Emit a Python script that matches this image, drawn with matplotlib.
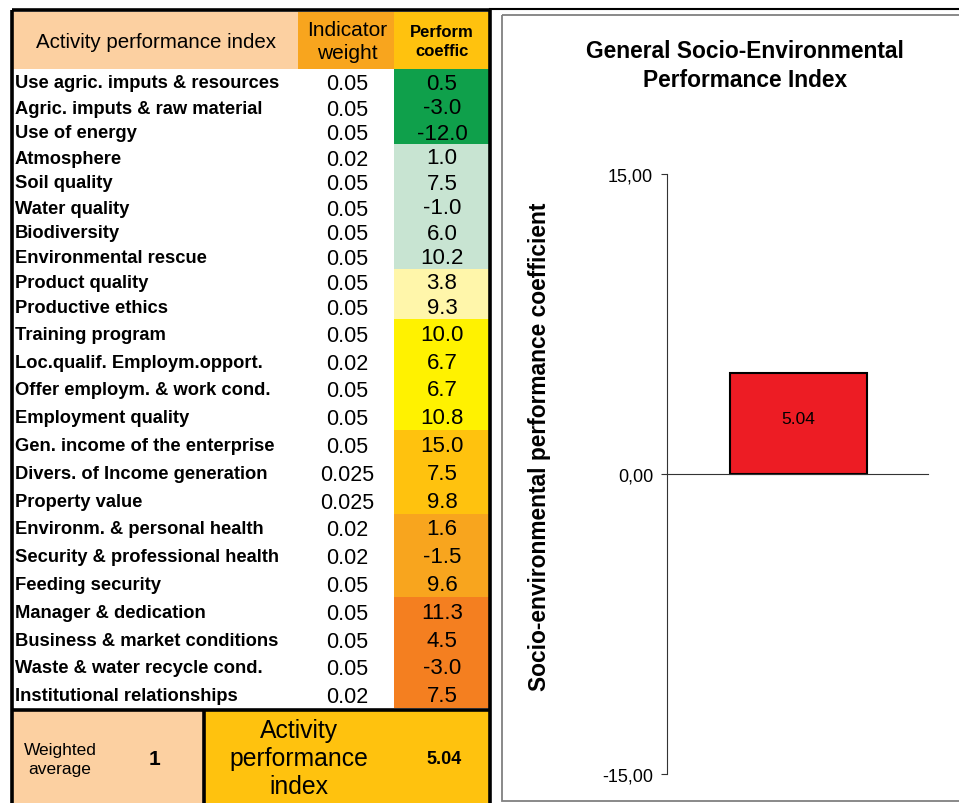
import matplotlib.pyplot as plt
from matplotlib.patches import Rectangle
from matplotlib.ticker import FuncFormatter

plt.rcParams['font.family'] = ['Liberation Sans', 'DejaVu Sans']

indicators = [
    "Use agric. imputs & resources", "Agric. imputs & raw material", "Use of energy",
    "Atmosphere", "Soil quality", "Water quality", "Biodiversity", "Environmental rescue",
    "Product quality", "Productive ethics",
    "Training program", "Loc.qualif. Employm.opport.", "Offer employm. & work cond.",
    "Employment quality",
    "Gen. income of the enterprise", "Divers. of Income generation", "Property value",
    "Environm. & personal health", "Security & professional health", "Feeding security",
    "Manager & dedication", "Business & market conditions", "Waste & water recycle cond.",
    "Institutional relationships",
]
weights = [0.05, 0.05, 0.05, 0.02, 0.05, 0.05, 0.05, 0.05, 0.05, 0.05, 0.05, 0.02,
           0.05, 0.05, 0.05, 0.025, 0.025, 0.02, 0.02, 0.05, 0.05, 0.05, 0.05, 0.02]
coefficients = [0.5, -3.0, -12.0, 1.0, 7.5, -1.0, 6.0, 10.2, 3.8, 9.3, 10.0, 6.7,
                6.7, 10.8, 15.0, 7.5, 9.8, 1.6, -1.5, 9.6, 11.3, 4.5, -3.0, 7.5]
group_sizes = [3, 5, 2, 4, 3, 3, 4]
weight_total = 1
index_value = 5.04
y_ticks = [-15, 0, 15]

group_colors = ['#0FA04B', '#C8E4D2', '#FFF6AA', '#FFF200', '#FFC20E', '#F8A51E', '#F47F20']
peach = '#FCD0A1'
amber = '#F8A51E'
gold = '#FFC20E'

fig = plt.figure(figsize=(9.59, 8.04), dpi=100)

# whole-figure axes in pixel units for the table
tab = fig.add_axes([0, 0, 1, 1])
tab.set_xlim(0, 959)
tab.set_ylim(804, 0)
tab.axis('off')

# header
tab.add_patch(Rectangle((13, 13), 285, 57, color=peach, lw=0))
tab.add_patch(Rectangle((298, 13), 96, 57, color=amber, lw=0))
tab.add_patch(Rectangle((394, 13), 95, 57, color=gold, lw=0))
tab.text(156, 42, "Activity performance index", ha='center', va='center', fontsize=14.8)
tab.text(347, 42, "Indicator\nweight", ha='center', va='center', fontsize=15, linespacing=1.25)
tab.text(442, 42, "Perform\ncoeffic", ha='center', va='center', fontsize=12,
         fontweight='bold', linespacing=1.35)

# colour of each coefficient cell
cell_colors = []
for n, c in zip(group_sizes, group_colors):
    cell_colors += [c] * n

# first ten rows are a bit tighter than the rest
y = 70
for i in range(len(indicators)):
    h = 25.0 if i < 10 else 27.8
    tab.add_patch(Rectangle((394, y), 95, h, color=cell_colors[i], lw=0))
    yc = y + h / 2 + 1.5
    tab.text(15, yc, indicators[i], ha='left', va='center', fontsize=13.2, fontweight='bold')
    tab.text(347, yc + 1, f"{weights[i]:g}", ha='center', va='center', fontsize=15.5)
    tab.text(442, yc, f"{coefficients[i]:.1f}", ha='center', va='center', fontsize=16)
    y += h

# bottom summary
tab.add_patch(Rectangle((13, 711), 191, 93, color=peach, lw=0))
tab.add_patch(Rectangle((204, 711), 285, 93, color=gold, lw=0))
tab.text(60, 760, "Weighted\naverage", ha='center', va='center', fontsize=12.5, linespacing=1.4)
tab.text(155, 760, f"{weight_total}", ha='center', va='center', fontsize=15, fontweight='bold')
tab.text(299, 759, "Activity\nperformance\nindex", ha='center', va='center', fontsize=17.8,
         linespacing=1.2)
tab.text(444, 760, f"{index_value:.2f}", ha='center', va='center', fontsize=13,
         fontweight='bold')

# black frame
lw = 2.6
tab.plot([11.5, 11.5], [11, 804], color='black', lw=lw, solid_capstyle='butt')
tab.plot([11.5, 490], [11, 11], color='black', lw=lw, solid_capstyle='butt')
tab.plot([490, 490], [11, 804], color='black', lw=lw, solid_capstyle='butt')
tab.plot([11.5, 490], [711, 711], color='black', lw=lw, solid_capstyle='butt')
tab.plot([204, 204], [711, 804], color='black', lw=lw, solid_capstyle='butt')
tab.plot([490, 959], [10, 10], color='black', lw=1.5)

# chart panel frame
tab.add_patch(Rectangle((502, 16), 470, 786, fill=False, edgecolor='#808080', lw=1.3))

fig.text(745 / 959, 1 - 66 / 804, "General Socio-Environmental\nPerformance Index",
         ha='center', va='center', fontsize=16.4, fontweight='bold', linespacing=1.3)

# bar chart
ax = fig.add_axes([667 / 959, 29 / 804, 261 / 959, 600 / 804])
ax.set_facecolor('none')
ax.bar([0], [index_value], width=0.525, color='#ED1C24', edgecolor='black', lw=1.5)
ax.text(0, index_value * 0.55, f"{index_value:.2f}", ha='center', va='center', fontsize=12.5)
ax.set_xlim(-0.504, 0.496)
ax.set_ylim(-15, 15)
ax.set_yticks(y_ticks)
ax.yaxis.set_major_formatter(FuncFormatter(lambda v, p: f"{v:.2f}".replace('.', ',')))
ax.set_xticks([])
for s in ['top', 'right']:
    ax.spines[s].set_visible(False)
ax.spines['bottom'].set_position(('data', 0))
ax.spines['left'].set_color('#333333')
ax.spines['bottom'].set_color('#333333')
ax.tick_params(axis='y', length=4, color='#333333', labelsize=13, pad=6)
ax.set_ylabel("Socio-environmental performance coefficient", fontsize=16.4, fontweight='bold')
ax.yaxis.set_label_coords(-0.444, 0.547)

fig.savefig('out.png', dpi=100)
